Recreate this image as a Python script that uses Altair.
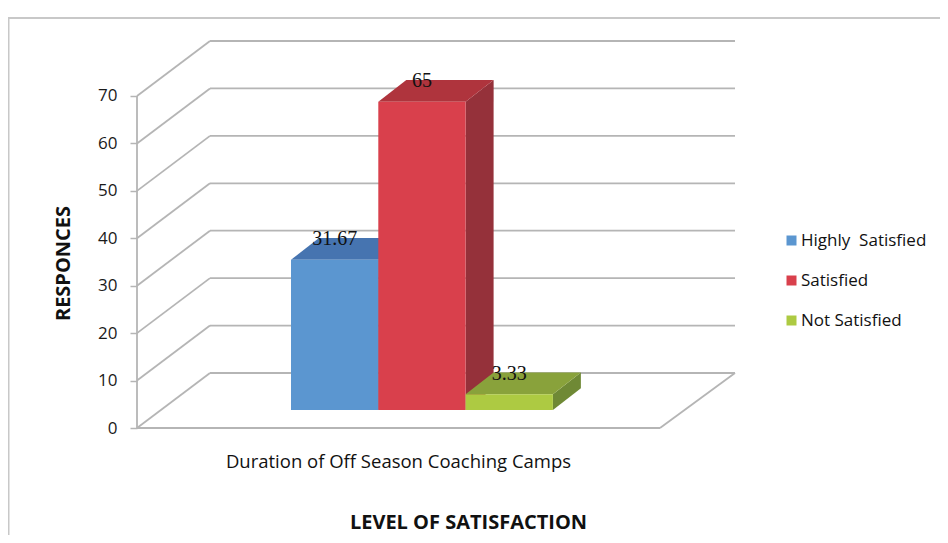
import altair as alt
import pandas as pd

# ---- data ----
categories = ["Highly  Satisfied", "Satisfied", "Not Satisfied"]
values = [31.67, 65, 3.33]
value_labels = ["31.67", "65", "3.33"]
group_label = ["Duration of Off Season Coaching Camps"]
y_ticks = [0, 10, 20, 30, 40, 50, 60, 70]

front_colors = ["#5B96D0", "#D9404C", "#ADCA42"]
top_colors = ["#4674B0", "#AF343D", "#89A23B"]
side_colors = ["#3F689E", "#95313A", "#6F8935"]

# ---- geometry (in value units; 1 unit = PX pixels on both axes) ----
PX = 4.743
W, H = 603, 386
XMAX, YMAX = W / PX, H / PX
WALL_DX, WALL_DY = 73 / PX, 55 / PX
FLOOR_RIGHT = 523 / PX
BACK_RIGHT = 598 / PX
BAR_START, BAR_W = 154 / PX, 87.3 / PX
BAR_BASE = 18 / PX
BAR_DX, BAR_DY = 28 / PX, 21.7 / PX

GRID = "#B5B5B5"
FONT = "Open Sans"

xs = alt.Scale(domain=[0, XMAX], nice=False, zero=False)
ys = alt.Scale(domain=[0, YMAX], nice=False, zero=False)
x_axis = alt.Axis(title="LEVEL OF SATISFACTION", labels=False, ticks=False, domain=False,
                  grid=False, titleFont=FONT, titleFontSize=20, titleFontWeight="bold",
                  titleColor="#111", titleX=331, titleY=94, titleAlign="center",
                  titleBaseline="middle")
y_axis = alt.Axis(title="RESPONCES", values=y_ticks, domain=False, grid=False,
                  tickColor=GRID, tickSize=7, tickWidth=1.5, labelPadding=13,
                  labelFont=FONT, labelFontSize=17, labelColor="#1a1a1a",
                  titleFont=FONT, titleFontSize=20, titleFontWeight="bold", titleColor="#111",
                  titleX=-74, titleY=221, titleAngle=270, titleAlign="center",
                  titleBaseline="middle")


def X(f):
    return alt.X(f, type="quantitative", scale=xs, axis=x_axis)


def Y(f):
    return alt.Y(f, type="quantitative", scale=ys, axis=y_axis, stack=None)


# ---- frame lines ----
rows = []
for v in y_ticks:
    rows.append(dict(x=WALL_DX, x2=BACK_RIGHT, y=v + WALL_DY, y2=v + WALL_DY))  # back wall grid
    rows.append(dict(x=0, x2=WALL_DX, y=v, y2=v + WALL_DY))  # side wall diagonal
rows.append(dict(x=0, x2=0, y=0, y2=y_ticks[-1]))  # front axis line
rows.append(dict(x=0, x2=FLOOR_RIGHT, y=0, y2=0))  # floor front edge
rows.append(dict(x=FLOOR_RIGHT, x2=BACK_RIGHT, y=0, y2=WALL_DY))  # floor right edge
lines = pd.DataFrame(rows)

rule_layer = alt.Chart(lines).mark_rule(color=GRID, strokeWidth=1.8).encode(
    x=X("x"), x2="x2", y=Y("y"), y2="y2")

# ---- bars ----
bars = pd.DataFrame({"category": categories, "value": values, "label": value_labels})
bars["left"] = [BAR_START + i * BAR_W for i in range(len(categories))]
bars["right"] = bars["left"] + BAR_W
bars["base"] = BAR_BASE
bars["top"] = BAR_BASE + bars["value"]
bars["cx"] = bars["left"] + BAR_W / 2
bars["ly"] = bars["top"] + BAR_DY * 0.95

top_rows, side_rows = [], []
for i, r in bars.iterrows():
    a, b, t, bs = r["left"], r["right"], r["top"], r["base"]
    c = r["category"]
    for (px_, y1, y2) in [(a, t, t), (a + BAR_DX, t + BAR_DY, t),
                          (b, t + BAR_DY, t), (b + BAR_DX, t + BAR_DY, t + BAR_DY)]:
        top_rows.append(dict(category=c, x=px_, y=y1, y2=y2, shade=top_colors[i]))
    for (px_, y1, y2) in [(b, t, bs), (b + BAR_DX, t + BAR_DY, bs + BAR_DY)]:
        side_rows.append(dict(category=c, x=px_, y=y1, y2=y2, shade=side_colors[i]))
tops = pd.DataFrame(top_rows)
sides = pd.DataFrame(side_rows)


def face_layer(df):
    layers = []
    for c in categories:
        sub = df[df["category"] == c]
        layers.append(alt.Chart(sub).mark_area(interpolate="linear", color=sub["shade"].iloc[0]).encode(
            x=X("x"), y=Y("y"), y2=alt.Y2("y2")))
    return layers


side_layers = face_layer(sides)
top_layers = face_layer(tops)

front_layer = alt.Chart(bars).mark_rect(opacity=1).encode(
    x=X("left"), x2="right", y=Y("base"), y2="top",
    color=alt.Color("category:N", scale=alt.Scale(domain=categories, range=front_colors),
                    sort=categories,
                    legend=alt.Legend(title=None, orient="none", legendX=646, legendY=190,
                                      symbolType="square", symbolSize=100,
                                      symbolStrokeWidth=0, labelFont=FONT,
                                      labelFontSize=17, labelColor="#111",
                                      rowPadding=22, labelOffset=1,
                                      labelExpr="replace(datum.label, '  ', '\u00a0 ')")))
label_layer = alt.Chart(bars).mark_text(font="Liberation Serif", fontSize=20,
                                        color="#111", baseline="middle").encode(
    x=X("cx"), y=Y("ly"), text="label:N")

cat_df = pd.DataFrame({"text": group_label, "x": [FLOOR_RIGHT / 2], "y": [-34 / PX]})
cat_layer = alt.Chart(cat_df).mark_text(font=FONT, fontSize=18.5, color="#111",
                                        baseline="middle").encode(
    x=X("x"), y=Y("y"), text="text:N")

frame = alt.Chart(pd.DataFrame({"a": [0]})).mark_rect(
    filled=False, stroke="#C8C8C8", strokeWidth=2).encode(
    x=alt.value(-128.5), x2=alt.value(1200), y=alt.value(-24), y2=alt.value(900))

chart = alt.layer(frame, rule_layer, *side_layers, *top_layers, front_layer, label_layer,
                  cat_layer).properties(
    width=W, height=H,
    autosize=alt.AutoSizeParams(type="none"),
    padding={"left": 129, "top": 34, "right": 200, "bottom": 107},
    background="white",
).configure_view(stroke=None)

chart.save("out.html", embed_options={"renderer": "svg", "actions": False})
